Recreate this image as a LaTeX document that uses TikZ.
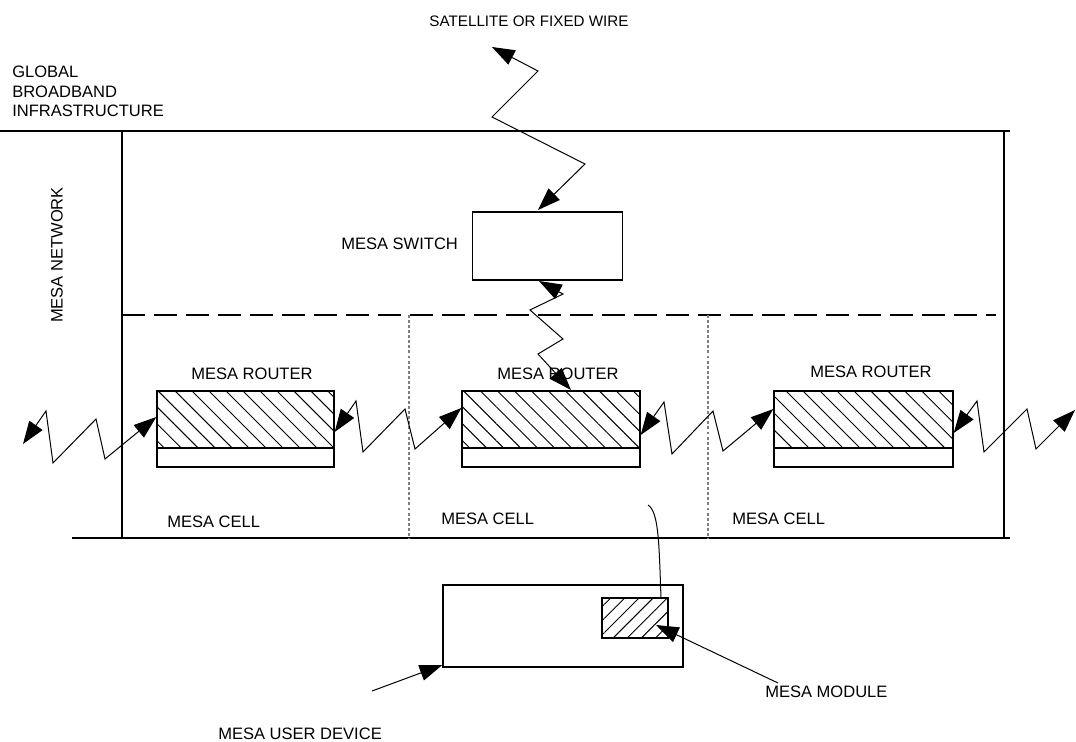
\documentclass[tikz,border=0pt]{standalone}
\usepackage{fontspec}
\setmainfont{Liberation Sans}
\usetikzlibrary{arrows.meta,patterns.meta}
\begin{document}
\begin{tikzpicture}[x=0.75pt,y=-0.75pt,
  lbl/.style={anchor=base west,inner sep=0pt,font=\fontsize{12.4}{14.6}\selectfont},
  boxn/.style={draw,line width=1pt,inner sep=0pt},
  frame/.style={line width=0.8pt},
  zig/.style={line width=0.75pt,{Triangle[length=17pt,width=12pt]}-{Triangle[length=17pt,width=12pt]}},
  onearrow/.style={line width=0.75pt,-{Triangle[length=17pt,width=12pt]}},
  hatchR/.style={pattern={Lines[angle=-45,distance=9pt,line width=0.7pt]}},
  hatchM/.style={pattern={Lines[angle=45,distance=7.5pt,line width=0.7pt]}},
  celldiv/.style={line width=0.8pt,gray,dash pattern=on 2.2pt off 1.6pt}]
\useasboundingbox (0,0) rectangle (1076,742);
% frame lines
\coordinate (tl) at (0,131); \coordinate (tr) at (1010,131);
\draw[frame] (tl) -- (tr);
\coordinate (lv1) at (122,131); \coordinate (lv2) at (122,538);
\draw[frame] (lv1) -- (lv2);
\coordinate (rv1) at (1004,131); \coordinate (rv2) at (1004,538);
\draw[frame] (rv1) -- (rv2);
\coordinate (bl) at (72,538); \coordinate (br) at (1010,538);
\draw[frame] (bl) -- (br);
\coordinate (dl) at (122,315); \coordinate (dr) at (996,315);
\draw[frame,dash pattern=on 17pt off 7pt] (dl) -- (dr);
\coordinate (c1a) at (409,315); \coordinate (c1b) at (409,538);
\draw[celldiv] (c1a) -- (c1b);
\coordinate (c2a) at (708,315); \coordinate (c2b) at (708,538);
\draw[celldiv] (c2a) -- (c2b);
% texts
\node[lbl,anchor=base,font=\fontsize{11.4}{13}\selectfont] (sat) at (529,27) {SATELLITE OR FIXED WIRE};
\node[lbl,align=left,anchor=north west] (gbi) at (12,66) {GLOBAL\\BROADBAND\\INFRASTRUCTURE};
\node[lbl,anchor=center,rotate=90] (net) at (57,255) {MESA NETWORK};
\node[lbl] (swl) at (341,249) {MESA SWITCH};
\node[lbl] (rl1) at (191,379) {MESA ROUTER};
\node[lbl] (rl2) at (497,379) {MESA ROUTER};
\node[lbl] (rl3) at (810,377) {MESA ROUTER};
\node[lbl] (cl1) at (167,527) {MESA CELL};
\node[lbl] (cl2) at (441,524) {MESA CELL};
\node[lbl] (cl3) at (732,524) {MESA CELL};
\node[lbl] (mml) at (765,697) {MESA MODULE};
\node[lbl] (udl) at (218,739) {MESA USER DEVICE};
% switch
\node[boxn,minimum width=112.5pt,minimum height=51pt] (sw) at (547.5,246) {};
% routers
\path[hatchR] (157,391) rectangle (334,448);
\path[hatchR] (462,391) rectangle (640,448);
\path[hatchR] (774,391) rectangle (953,448);
\node[boxn,minimum width=132.75pt,minimum height=57pt] (r1) at (245.5,429) {};
\node[boxn,minimum width=133.5pt,minimum height=57pt] (r2) at (551,429) {};
\node[boxn,minimum width=134.25pt,minimum height=57pt] (r3) at (863.5,429) {};
\draw[line width=1pt] (157,448) -- (334,448);
\draw[line width=1pt] (462,448) -- (640,448);
\draw[line width=1pt] (774,448) -- (953,448);
% user device and module
\node[boxn,minimum width=180pt,minimum height=61.5pt] (ud) at (563,626) {};
\path[hatchM] (602,598) rectangle (668,638);
\node[boxn,minimum width=49.5pt,minimum height=30pt] (mm) at (635,618) {};
\coordinate (ant) at (648,505);
\draw[line width=0.75pt] (mm.north -| 661,0) .. controls (659,545) and (659,512) .. (ant);
% zigzags
\coordinate (s0) at (492,47);
\draw[zig] (s0) -- (538,71) -- (492,117) -- (585,164) -- (538,210);
\coordinate (w0) at (539,281);
\draw[zig] (w0) -- (563,294) -- (530,310) -- (563,339) -- (538,354) -- (571,390);
\coordinate (l0) at (23,444);
\draw[zig] (l0) -- (46,411) -- (53,463) -- (96,419) -- (105,459) -- (r1.west |- 0,417);
\draw[zig] (r1.east |- 0,432) -- (356,401) -- (363,452) -- (405,409) -- (415,449) -- (r2.west |- 0,408);
\draw[zig] (r2.east |- 0,435) -- (664,402) -- (672,454) -- (713,411) -- (723,451) -- (r3.west |- 0,409);
\coordinate (e0) at (1075,410);
\draw[zig] (r3.east |- 0,433) -- (977,401) -- (984,452) -- (1027,409) -- (1036,449) -- (e0);
% pointer arrows
\coordinate (udp) at (372,691);
\draw[onearrow] (udp) -- (ud.south west |- 0,665);
\coordinate (mmp) at (778,683);
\draw[onearrow] (mmp) -- (656,625);
\end{tikzpicture}
\end{document}
